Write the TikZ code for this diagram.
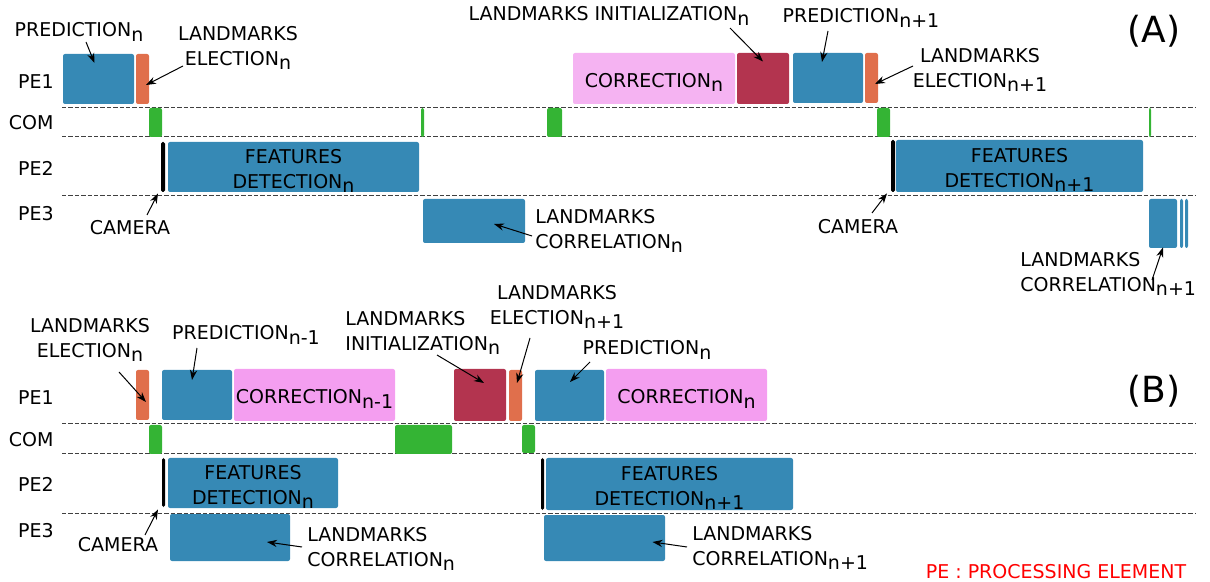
\documentclass[tikz,border=0pt]{standalone}
\usepackage{fontspec}
\setmainfont{DejaVu Sans}
\usetikzlibrary{arrows.meta,positioning,calc,fit}
\definecolor{cblue}{HTML}{3689B5}
\definecolor{corange}{HTML}{E06F4C}
\definecolor{cgreen}{HTML}{34B434}
\definecolor{cred}{HTML}{B3344F}
\definecolor{cpinka}{HTML}{F5B3F2}
\definecolor{cpinkb}{HTML}{F49EF0}
\newcommand{\lowsub}[1]{\raisebox{-0.45ex}{#1}}

\begin{document}
\begin{tikzpicture}[x=0.5pt, y=-0.5pt,
  font=\fontsize{9.5}{12.5}\selectfont, >={Stealth[length=5pt,width=3.6pt]},
  bar/.style={rectangle, inner sep=0pt, rounded corners=1pt},
  bluebar/.style={bar, fill=cblue},
  elecbar/.style={bar, fill=corange},
  combar/.style={bar, fill=cgreen},
  initbar/.style={bar, fill=cred},
  corrbar/.style={bar, fill=cpinka},
  cambar/.style={bar, fill=black, rounded corners=0.8pt},
  intext/.style={label={[lbl, yshift=-2pt]center:#1}},
  lane/.style={black!75, line width=0.5pt, dash pattern=on 2.2pt off 1pt},
  lbl/.style={inner sep=1pt, align=center},
  pt/.style={->, line width=0.5pt}]
\useasboundingbox (0,0) rectangle (1210,582);

% lanes and row names
\foreach \y in {108,137,196,424,454,513}
  \draw[lane] (62,\y) -- (1196,\y);
\foreach \t/\y/\n in {PE1/82/a1, COM/123/a2, PE2/168/a3, PE3/214/a4,
                      PE1/398/b1, COM/440/b2, PE2/484/b3, PE3/531/b4}
  \node[lbl, anchor=east] (row\n) at (56,\y) {\t};

% ---- (A)
\node[bluebar, fit={(63,54) (134,104)}] (predA) {};
\node[elecbar, fit={(136,54) (149,104)}] (elecA) {};
\node[combar, fit={(149,108) (162,137)}] (comA1) {};
\node[cambar, fit={(161,142) (165,192)}] (camA) {};
\node[bluebar, fit={(168,142) (419,192)}, intext={FEATURES\\DETECTION\lowsub{n}}] (featA) {};
\node[combar, fit={(421,108) (424,137)}] (comA2) {};
\node[bluebar, fit={(423,199) (525,243)}] (corrlA) {};
\node[combar, fit={(547,108) (562,137)}] (comA3) {};
\node[corrbar, fit={(573,53) (735,104)}, intext={CORRECTION\lowsub{n}}] (corrA) {};
\node[initbar, fit={(737,53) (789,104)}] (initA) {};
\node[bluebar, fit={(793,53) (863,103)}] (pred2A) {};
\node[elecbar, fit={(865,53) (878,103)}] (elec2A) {};
\node[combar, fit={(877,108) (890,137)}] (comA4) {};
\node[cambar, fit={(891,140) (895,192)}] (cam2A) {};
\node[bluebar, fit={(896,140) (1143,192)}, intext={FEATURES\\DETECTION\lowsub{n+1}}] (feat2A) {};
\node[combar, fit={(1149,108) (1151,137)}] (comA5) {};
\node[bluebar, fit={(1149,199) (1177,248)}] (corrl2A) {};
\node[bluebar, fit={(1180,199) (1183,248)}] (corrl2Ab) {};
\node[bluebar, fit={(1185,199) (1188,248)}] (corrl2Ac) {};

\node[lbl] (lpredA) at (79,32) {PREDICTION\lowsub{n}};
\node[lbl] (lelecA) at (238,48) {LANDMARKS\\ELECTION\lowsub{n}};
\node[lbl] (lcamA) at (130,228) {CAMERA};
\node[lbl] (linitA) at (609,16) {LANDMARKS INITIALIZATION\lowsub{n}};
\node[lbl] (lpred2A) at (861,18) {PREDICTION\lowsub{n+1}};
\node[lbl] (lelec2A) at (980,70) {LANDMARKS\\ELECTION\lowsub{n+1}};
\node[lbl] (lcam2A) at (858,227) {CAMERA};
\node[lbl, align=left, anchor=west] (lcorrlA) at (533,231) {LANDMARKS\\CORRELATION\lowsub{n}};
\node[lbl, align=left, anchor=west] (lcorrl2A) at (1018,274) {LANDMARKS\\CORRELATION\lowsub{n+1}};
\node[font=\fontsize{18}{20}\selectfont] (tagA) at (1154,31) {(A)};

\draw[pt] ($(lpredA)+(7,10)$) -- ($(predA)+(-4,-16)$);
\draw[pt] ($(lelecA)+(-55,18)$) -- ($(elecA)+(3.5,6)$);
\draw[pt] ($(lcamA)+(17,-13)$) -- ($(camA.south)+(-5,1)$);
\draw[pt] ($(linitA)+(121,12)$) -- ($(initA)+(0,-17)$);
\draw[pt] ($(lpred2A)+(-33,13)$) -- ($(pred2A)+(-6,-16)$);
\draw[pt] ($(lelec2A)+(-67,-4)$) -- ($(elec2A)+(3.5,6)$);
\draw[pt] ($(lcam2A)+(14,-14)$) -- ($(cam2A.south)+(-6,1)$);
\draw[pt] ($(lcorrlA.west)+(-1,5)$) -- ($(corrlA)+(20,3)$);
\draw[pt] ($(lcorrl2A.west)+(134,6)$) -- ($(corrl2A.south)+(0,-1)$);

% ---- (B)
\node[elecbar, fit={(136,370) (149,420)}] (elecB) {};
\node[combar, fit={(149,425) (162,454)}] (comB1) {};
\node[bluebar, fit={(162,370) (232,420)}] (predB) {};
\node[corrbar, fill=cpinkb, fit={(234,369) (395,421)}, intext={CORRECTION\lowsub{n-1}}] (corrB) {};
\node[combar, fit={(395,425) (452,454)}] (comB2) {};
\node[initbar, fit={(454,369) (506,421)}] (initB) {};
\node[elecbar, fit={(509,370) (522,421)}] (elec2B) {};
\node[combar, fit={(522,425) (535,453)}] (comB3) {};
\node[bluebar, fit={(535,370) (604,421)}] (pred2B) {};
\node[corrbar, fill=cpinkb, fit={(606,369) (767,421)}, intext={CORRECTION\lowsub{n}}] (corr2B) {};
\node[cambar, fit={(162,458) (165,507)}] (camB) {};
\node[bluebar, fit={(168,458) (338,508)}, intext={FEATURES\\DETECTION\lowsub{n}}] (featB) {};
\node[bluebar, fit={(170,514) (290,561)}] (corrlB) {};
\node[cambar, fit={(541,458) (544,510)}] (cam2B) {};
\node[bluebar, fit={(546,458) (793,510)}, intext={FEATURES\\DETECTION\lowsub{n+1}}] (feat2B) {};
\node[bluebar, fit={(544,515) (665,561)}] (corrl2B) {};

\node[lbl] (lelecB) at (90,340) {LANDMARKS\\ELECTION\lowsub{n}};
\node[lbl] (lpredB) at (246,335) {PREDICTION\lowsub{n-1}};
\node[lbl, align=left, anchor=west] (linitB) at (343,333) {LANDMARKS\\INITIALIZATION\lowsub{n}};
\node[lbl] (lelec2B) at (557,307) {LANDMARKS\\ELECTION\lowsub{n+1}};
\node[lbl] (lpred2B) at (647,350) {PREDICTION\lowsub{n}};
\node[lbl] (lcamB) at (118,545) {CAMERA};
\node[lbl, align=left, anchor=west] (lcorrlB) at (305,549) {LANDMARKS\\CORRELATION\lowsub{n}};
\node[lbl, align=left, anchor=west] (lcorrl2B) at (690,548) {LANDMARKS\\CORRELATION\lowsub{n+1}};
\node[font=\fontsize{18}{20}\selectfont] (tagB) at (1154,391) {(B)};
\node[lbl, text=red] (legend) at (1056,572) {PE : PROCESSING ELEMENT};

\draw[pt] ($(lelecB)+(29,32)$) -- ($(elecB)+(3.5,7)$);
\draw[pt] ($(lpredB)+(-49,13)$) -- ($(predB)+(-5,-15)$);
\draw[pt] ($(linitB.west)+(94,22)$) -- ($(initB)+(4,-12)$);
\draw[pt] ($(lelec2B)+(-27,31)$) -- ($(elec2B)+(1.5,-12.5)$);
\draw[pt] ($(lpred2B)+(-57,12)$) -- ($(pred2B)+(0.5,-13.5)$);
\draw[pt] ($(lcamB)+(27,-10)$) -- ($(camB.south)+(-5.5,2)$);
\draw[pt] ($(lcorrlB.west)+(-3,-2)$) -- ($(corrlB)+(37,4.5)$);
\draw[pt] ($(lcorrl2B.west)+(-3,-1)$) -- ($(corrl2B)+(48,4)$);
\end{tikzpicture}
\end{document}
